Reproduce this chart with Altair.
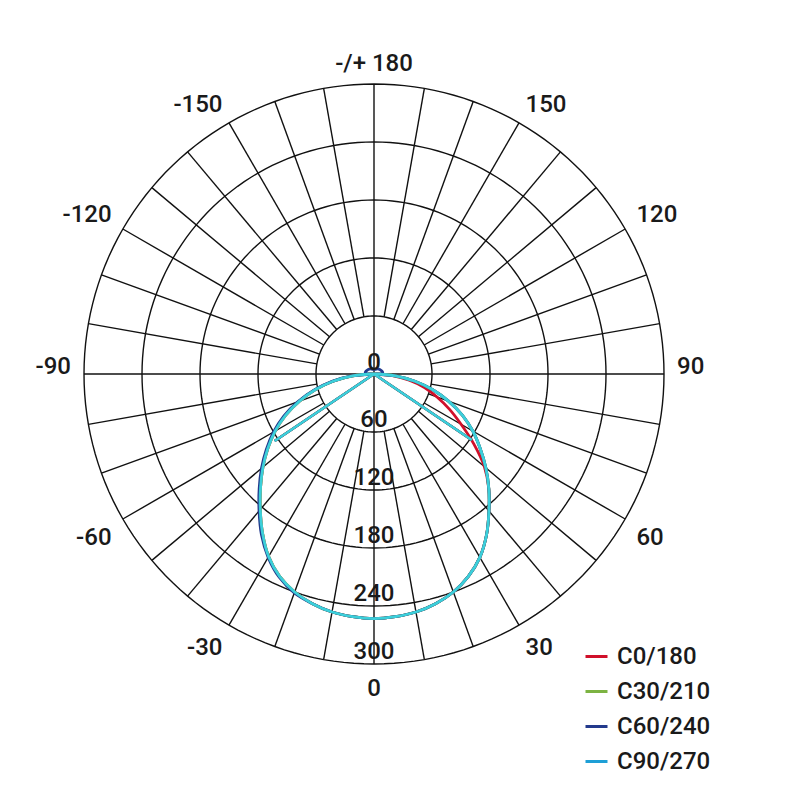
import altair as alt
import numpy as np
import pandas as pd

# ---------------- data ----------------
series = ["C0/180", "C30/210", "C60/240", "C90/270"]
legend_colors = ["#d0102a", "#7cb342", "#233a8c", "#1e9fd6"]
curve_colors = ["#d0102a", "#7cb342", "#233a8c", "#3ccfda"]

# gamma angles (0 = downward, + = right side)
gamma_main = [-90, -85, -80, -75, -70, -65, -60, -55, -50, -45, -40, -35, -30, -25, -20, -15, -10, -5,
              0, 5, 10, 15, 20, 25, 30, 35, 40, 45, 50, 55, 60, 65, 70, 75, 80, 85, 90]

c0_180 = [0, 22, 43, 63, 82, 101, 118, 134, 150, 166, 183, 201, 218, 231, 240, 246, 250, 252,
          253, 252, 250, 246, 240, 231, 219, 203, 185, 168, 149, 126, 104, 86, 69, 54, 37, 19, 0]
c30_210 = [0, 22, 43, 63, 82, 101, 118, 134, 150, 166, 183, 201, 218, 231, 240, 246, 250, 252,
           253, 252, 250, 246, 240, 231, 219, 203, 185, 168, 151, 134, 118, 101, 82, 63, 43, 22, 0]
c60_240 = [0, 23, 44, 64, 84, 103, 120, 136, 152, 168, 185, 203, 219, 232, 241, 246, 250, 252,
           253, 252, 250, 246, 240, 231, 219, 203, 185, 168, 151, 134, 118, 101, 82, 63, 43, 22, 0]
c90_270 = [0, 22, 43, 63, 82, 101, 118, 134, 150, 166, 183, 201, 218, 231, 240, 246, 250, 252,
           253, 252, 250, 246, 240, 231, 219, 203, 185, 168, 151, 134, 118, 101, 82, 63, 43, 22, 0]

# small back-light lobe of C60/240
back_gamma_left = [-180, -165, -150, -135, -120, -105, -95]
back_left = [5, 5, 6, 7, 8, 9, 9]
back_gamma_right = [95, 105, 120, 135, 150, 165, 180]
back_right = [9, 9, 8, 7, 6, 5, 5]

# chord segment near the cut-off
v_gamma = [-56, 0, 56]
v_values = [124, 0, 122]

ring_values = [60, 120, 180, 240, 300]
radial_labels = ["60", "120", "180", "240", "300"]
angle_ticks = [0, 30, 60, 90, 120, 150, 180, -150, -120, -90, -60, -30]
angle_labels = ["0", "30", "60", "90", "120", "150", "-/+ 180", "-150", "-120", "-90", "-60", "-30"]

# ---------------- layout ----------------
ppu = 290 / 300          # pixels per candela unit
W, H = 771, 782
CX, CY = 366, 366        # pole position inside the plot area (px)
xs = alt.Scale(domain=[-CX / ppu, (W - CX) / ppu], nice=False, zero=False)
ys = alt.Scale(domain=[-(H - CY) / ppu, CY / ppu], nice=False, zero=False)
FONT = "Roboto"
FS = 24
TXT = "#1a1a1a"
GRID = "#111111"


def polar(g, r):
    a = np.radians(np.asarray(g, dtype=float))
    r = np.asarray(r, dtype=float)
    return r * np.sin(a), -r * np.cos(a)


X = alt.X("x:Q", scale=xs, axis=None)
Y = alt.Y("y:Q", scale=ys, axis=None)

# rings
ring_rows = []
circ = np.arange(0, 361, 2)
for rv in ring_values:
    xx, yy = polar(circ, np.full(len(circ), rv))
    for i, (a, b) in enumerate(zip(xx, yy)):
        ring_rows.append({"ring": rv, "i": i, "x": a, "y": b})
rings = alt.Chart(pd.DataFrame(ring_rows)).mark_line(color=GRID, strokeWidth=1.4).encode(
    x=X, y=Y, detail="ring:N", order="i:Q")

# spokes
spoke_rows = []
for g in range(0, 360, 10):
    if g % 90 == 0:
        continue
    x1, y1 = polar([g], [ring_values[0]])
    x2, y2 = polar([g], [ring_values[-1]])
    spoke_rows.append({"x": x1[0], "y": y1[0], "x2": x2[0], "y2": y2[0]})
for g in [0, 90]:
    x1, y1 = polar([g], [ring_values[-1]])
    x2, y2 = polar([g + 180], [ring_values[-1]])
    spoke_rows.append({"x": x1[0], "y": y1[0], "x2": x2[0], "y2": y2[0]})
spokes = alt.Chart(pd.DataFrame(spoke_rows)).mark_rule(color=GRID, strokeWidth=1.4).encode(
    x=X, y=Y, x2="x2:Q", y2="y2:Q")

# curves
curve_values = {"C0/180": c0_180, "C30/210": c30_210, "C60/240": c60_240, "C90/270": c90_270}
curve_layers = []
for s in series:
    g_list = list(gamma_main)
    r_list = list(curve_values[s])
    if s == "C60/240":
        g_list = back_gamma_left + g_list + back_gamma_right
        r_list = back_left + r_list + back_right
    xx, yy = polar(g_list, r_list)
    main_df = pd.DataFrame({"series": s, "i": range(len(xx)), "x": xx, "y": yy})
    vx, vy = polar(v_gamma, v_values)
    chord_df = pd.DataFrame({"series": s, "i": range(len(vx)), "x": vx, "y": vy})
    col = alt.Color("series:N", scale=alt.Scale(domain=series, range=curve_colors), legend=None)
    curve_layers.append(
        alt.Chart(chord_df).mark_line(strokeWidth=2.4, strokeJoin="round").encode(
            x=X, y=Y, order="i:Q", color=col)
    )
    curve_layers.append(
        alt.Chart(main_df).mark_line(strokeWidth=2.8, strokeJoin="round", interpolate="catmull-rom").encode(
            x=X, y=Y, order="i:Q", color=col)
    )

# radial value labels along the 0 axis
lift = 12.5
rad_df = pd.DataFrame({"label": ["0"] + radial_labels,
                       "x": 0.0,
                       "y": [lift * 0.9] + [-v + lift for v in ring_values]})
rad_text = alt.Chart(rad_df).mark_text(font=FONT, fontSize=FS, fontWeight=500, color=TXT,
                                       align="center", baseline="middle").encode(x=X, y=Y, text="label:N")

# angle labels around the outside, anchored just outside the outer ring
R_lab = 313.5
ax, ay = polar(angle_ticks, np.full(len(angle_ticks), R_lab))
ang_df = pd.DataFrame({"label": angle_labels, "g": angle_ticks, "x": ax, "y": ay})
ang_df["align"] = np.where(ang_df["g"].abs() % 180 == 0, "center",
                           np.where(ang_df["g"] > 0, "left", "right"))
ang_df["base"] = np.where(ang_df["g"].abs() >= 90, "alphabetic", "top")
ang_layers = []
for (al, bl), _ in ang_df.groupby(["align", "base"]):
    ang_layers.append(
        alt.Chart(ang_df).transform_filter(
            (alt.datum.align == al) & (alt.datum.base == bl)
        ).mark_text(font=FONT, fontSize=FS, fontWeight=500, color=TXT, align=al, baseline=bl).encode(
            x=X, y=Y, text="label:N")
    )

# legend (single-point lines: nothing drawn, only the legend)
leg_df = pd.DataFrame({"series": series, "x": 0.0, "y": 0.0})
legend_layer = alt.Chart(leg_df).mark_line(strokeWidth=3).encode(
    x=X, y=Y,
    color=alt.Color("series:N", scale=alt.Scale(domain=series, range=legend_colors),
                    legend=alt.Legend(orient="none", legendX=576, legendY=636, title=None,
                                      symbolType="stroke", symbolSize=484, symbolStrokeWidth=3,
                                      labelFont=FONT, labelFontSize=FS, labelFontWeight=500,
                                      labelColor=TXT, labelOffset=8, rowPadding=10, padding=0)),
)

chart = alt.layer(rings, spokes, *curve_layers, rad_text, *ang_layers, legend_layer).resolve_scale(
    color="independent"
).properties(
    width=W, height=H, padding=0, autosize=alt.AutoSizeParams(type="none"), background="white"
).configure_view(stroke=None)

chart.save("out.html", embed_options={"renderer": "svg", "actions": False})
